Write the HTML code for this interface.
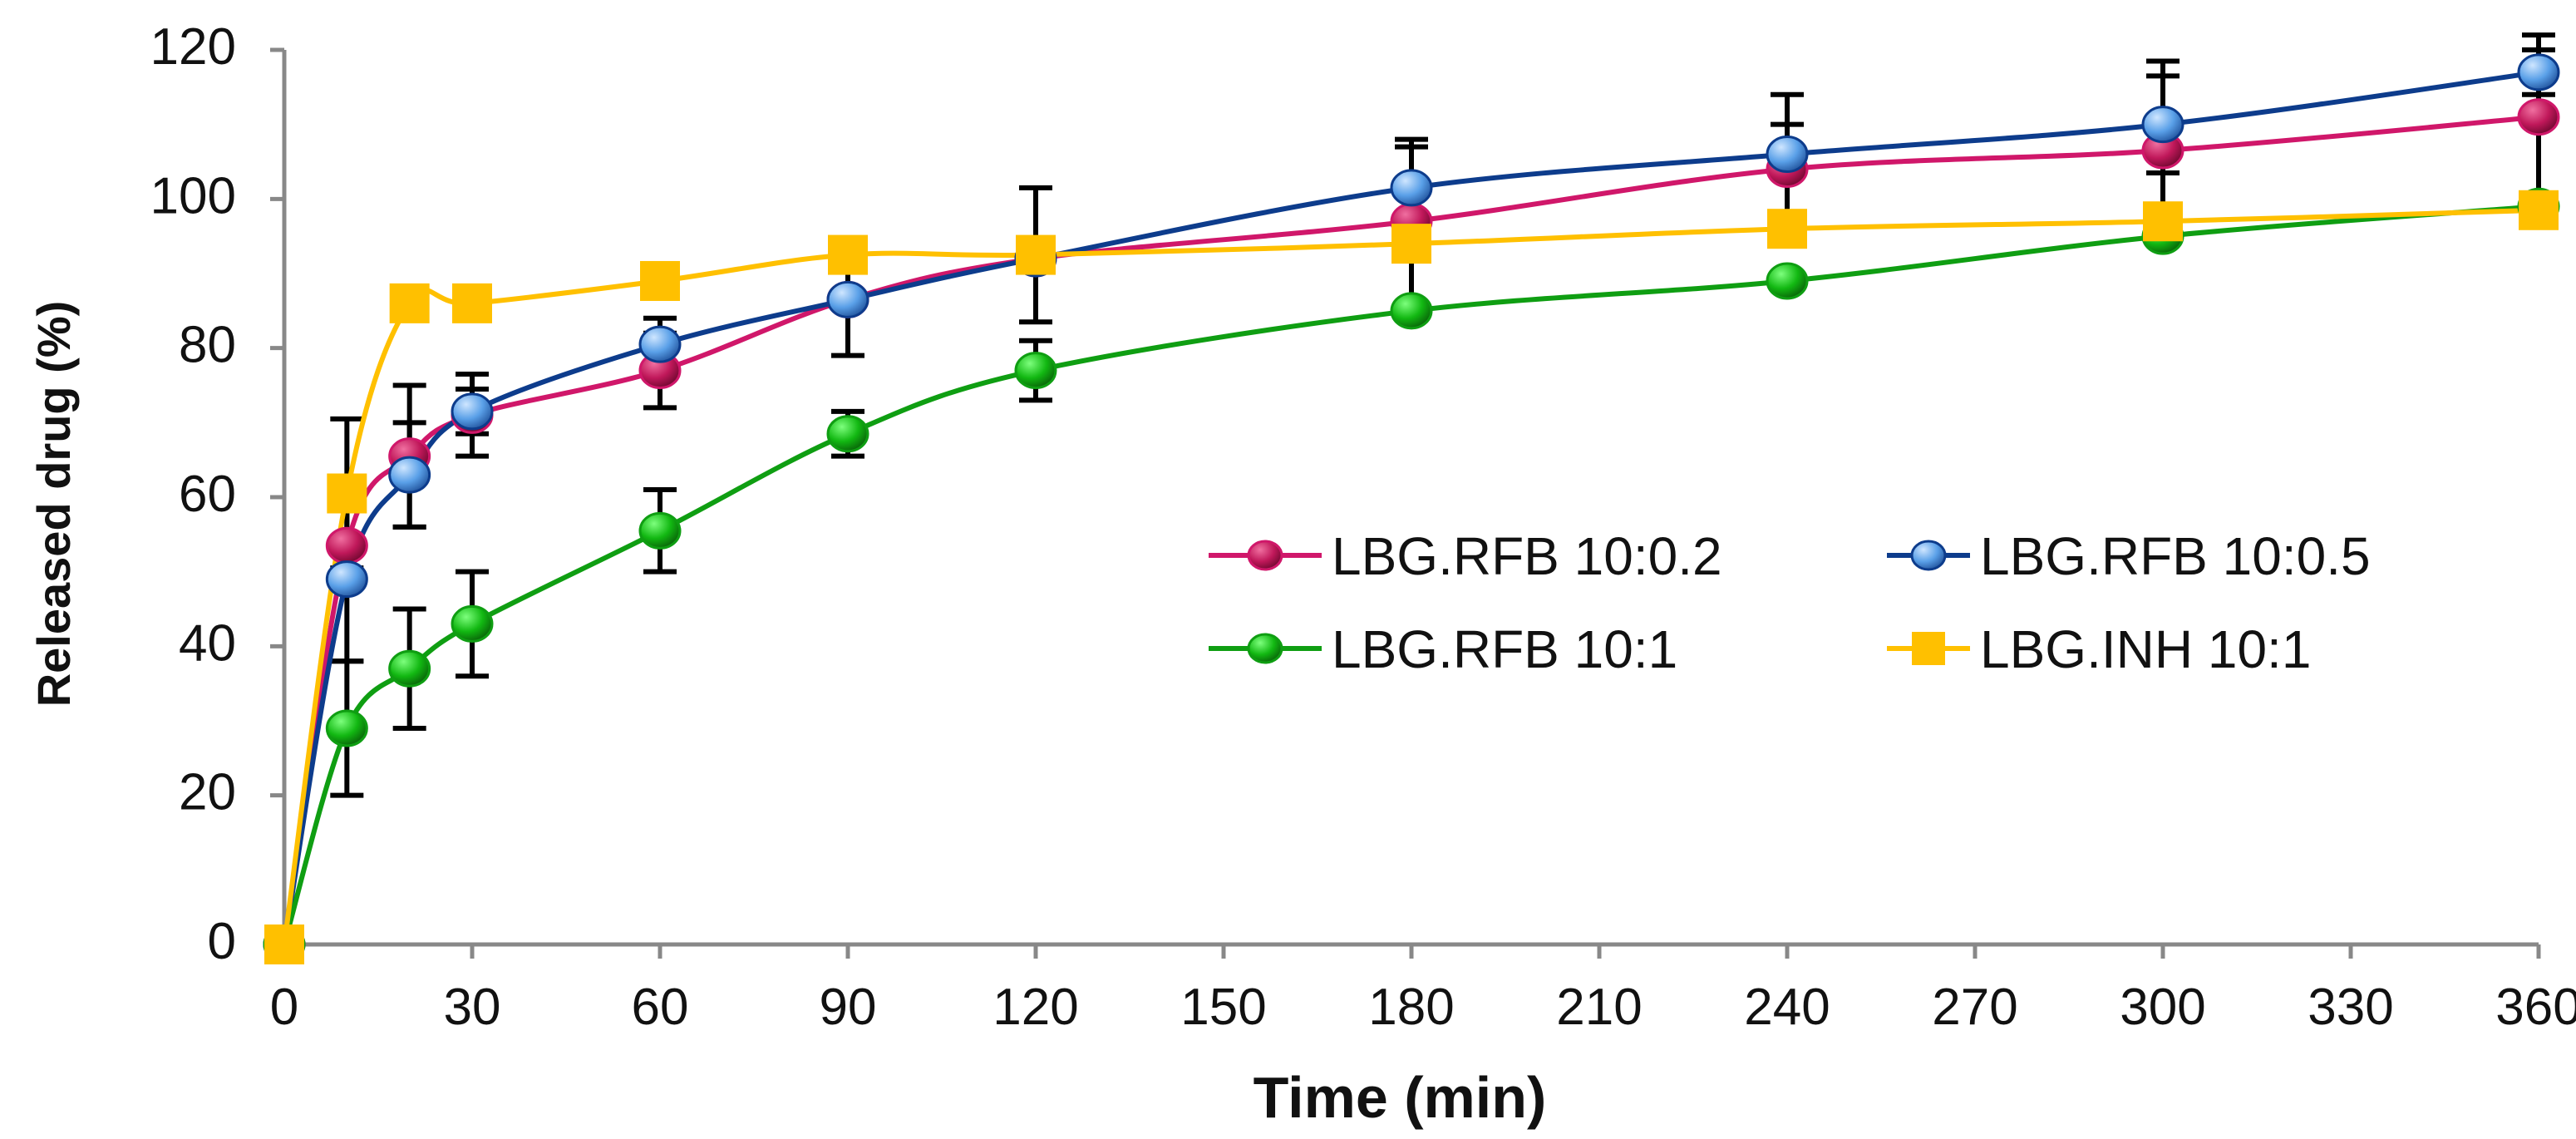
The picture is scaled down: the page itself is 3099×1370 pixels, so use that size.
<!DOCTYPE html>
<html><head><meta charset="utf-8"><style>
html,body{margin:0;padding:0;background:#fff}
svg{display:block}
text{font-family:"Liberation Sans",Arial,sans-serif}
</style></head><body>
<svg id="chart" width="3099" height="1370" viewBox="0 0 3099 1370" xmlns="http://www.w3.org/2000/svg">
<defs>
<radialGradient id="gPink" cx="35%" cy="30%" r="70%"><stop offset="0" stop-color="#f06fa0"/><stop offset="0.6" stop-color="#c0185a"/><stop offset="1" stop-color="#7a0a35"/></radialGradient>
<radialGradient id="gBlue" cx="35%" cy="30%" r="70%"><stop offset="0" stop-color="#cfe6ff"/><stop offset="0.6" stop-color="#5aa0e8"/><stop offset="1" stop-color="#2a5fa8"/></radialGradient>
<radialGradient id="gGreen" cx="35%" cy="30%" r="70%"><stop offset="0" stop-color="#7dff7d"/><stop offset="0.6" stop-color="#12b812"/><stop offset="1" stop-color="#0a6e0a"/></radialGradient>
</defs>
<g id="axes"></g>
<g id="errs"></g>
<g id="lines"></g>
<g id="marks"></g>
<g id="legend"></g>
</svg>
<script>
const times = [0,10,20,30,60,90,120,180,240,300,360];
const pinkVals = [0,53.5,65.5,71,77,86.5,92,97,104,106.5,111];
const pinkErr = [0,0,9.5,5.5,5,7.5,0,11,6,12,11];
const blueVals = [0,49,63,71.5,80.5,86.5,92,101.5,106,110,117];
const blueErr = [0,11,7,3,3.5,0,0,5.5,8,6.5,3];
const greenVals = [0,29,37,43,55.5,68.5,77,85,89,95,99];
const greenErr = [0,9,8,7,5.5,3,4,0,0,0,0];
const yellowVals = [0,60.5,86,86,89,92.5,92.5,94,96,97,98.5];
const yellowErr = [0,10,0,0,0,0,9,0,0,0,0];
const xTicks = [0,30,60,90,120,150,180,210,240,270,300,330,360];
const yTicks = [0,20,40,60,80,100,120];
const seriesNames = ["LBG.RFB 10:0.2","LBG.RFB 10:0.5","LBG.RFB 10:1","LBG.INH 10:1"];

const NS="http://www.w3.org/2000/svg";
const X0=342,X1=3054,Y0=1136,Y1=60;
const xs=v=>X0+(v/360)*(X1-X0);
const ys=v=>Y0-(v/120)*(Y0-Y1);
function mk(tag,parent,attrs){const e=document.createElementNS(NS,tag);for(const k in attrs)e.setAttribute(k,attrs[k]);document.getElementById(parent).appendChild(e);return e;}

let e=mk('line','axes',{x1:X0,y1:Y1,x2:X0,y2:Y0,stroke:'#888',"stroke-width":5});


e=mk('line','axes',{x1:X0,y1:Y0,x2:X1,y2:Y0,stroke:'#888',"stroke-width":5});


yTicks.forEach(t=>{
  const l=mk('line','axes',{x1:X0-17,y1:ys(t),x2:X0,y2:ys(t),stroke:'#888',"stroke-width":5});
  
  
  const tx=mk('text','axes',{x:284,y:ys(t)+17,"text-anchor":"end","font-size":62,fill:'#111'});
  tx.textContent=t;
  
  
});
xTicks.forEach(t=>{
  const l=mk('line','axes',{x1:xs(t),y1:Y0,x2:xs(t),y2:Y0+17,stroke:'#888',"stroke-width":5});
  
  
  const tx=mk('text','axes',{x:xs(t),y:1232,"text-anchor":"middle","font-size":62,fill:'#111'});
  tx.textContent=t;
  
  
});
e=mk('text','axes',{x:1684,y:1344,"text-anchor":"middle","font-size":70,"font-weight":"bold",fill:'#111'});
e.textContent='Time (min)';


e=mk('text','axes',{x:0,y:0,"text-anchor":"middle","font-size":56,"font-weight":"bold",fill:'#111',transform:'translate(84,606) rotate(-90)'});
e.textContent='Released drug (%)';



function smooth(pts){
  let d='M'+pts[0][0]+','+pts[0][1];
  const t=1/3;
  for(let i=0;i<pts.length-1;i++){
    const p0=pts[i-1]||pts[i],p1=pts[i],p2=pts[i+1],p3=pts[i+2]||p2;
    const c1=[p1[0]+(p2[0]-p0[0])*t/2,p1[1]+(p2[1]-p0[1])*t/2];
    const c2=[p2[0]-(p3[0]-p1[0])*t/2,p2[1]-(p3[1]-p1[1])*t/2];
    d+=` C${c1[0]},${c1[1]} ${c2[0]},${c2[1]} ${p2[0]},${p2[1]}`;
  }
  return d;
}
const series=[
 {vals:pinkVals,err:pinkErr,color:'#d0176a',fill:'url(#gPink)',shape:'c',key:'pink'},
 {vals:blueVals,err:blueErr,color:'#0d3c8c',fill:'url(#gBlue)',shape:'c',key:'blue'},
 {vals:greenVals,err:greenErr,color:'#0f9e12',fill:'url(#gGreen)',shape:'c',key:'green'},
 {vals:yellowVals,err:yellowErr,color:'#ffc000',fill:'#ffc000',shape:'s',key:'yellow'}
];
series.forEach(s=>{
  times.forEach((t,i)=>{
    if(!s.err[i])return;
    const x=xs(t),a=ys(s.vals[i]+s.err[i]),b=ys(s.vals[i]-s.err[i]);
    const g=mk('path','errs',{d:`M${x},${a}V${b}M${x-20},${a}H${x+20}M${x-20},${b}H${x+20}`,stroke:'#000',"stroke-width":6,fill:'none'});
    
    
  });
});
series.forEach(s=>{
  const pts=times.map((t,i)=>[xs(t),ys(s.vals[i])]);
  const p=mk('path','lines',{d:smooth(pts),stroke:s.color,"stroke-width":6,fill:'none'});
  
  
  times.forEach((t,i)=>{
    let m;
    if(s.shape==='c') m=mk('ellipse','marks',{cx:xs(t),cy:ys(s.vals[i]),rx:24,ry:21,fill:s.fill,stroke:s.color,"stroke-width":3});
    else m=mk('rect','marks',{x:xs(t)-24,y:ys(s.vals[i])-24,width:48,height:48,fill:s.fill});
    
    
  });
});
const legPos=[[1454,668],[2270,668],[1454,780],[2270,780]];
series.forEach((s,k)=>{
  const [lx,ly]=legPos[k];
  const w=k%2?100:136;
  const l=mk('line','legend',{x1:lx,y1:ly,x2:lx+w,y2:ly,stroke:s.color,"stroke-width":6});
  
  
  let m;
  const mx=lx+w/2;
  if(s.shape==='c') m=mk('ellipse','legend',{cx:mx,cy:ly,rx:20,ry:17,fill:s.fill,stroke:s.color,"stroke-width":3});
  else m=mk('rect','legend',{x:mx-20,y:ly-20,width:40,height:40,fill:s.fill});
  
  
  const tx=mk('text','legend',{x:lx+w+12,y:ly+23,"font-size":64,fill:'#111'});
  tx.textContent=seriesNames[k];
  
  
});
</script>
</body></html>
